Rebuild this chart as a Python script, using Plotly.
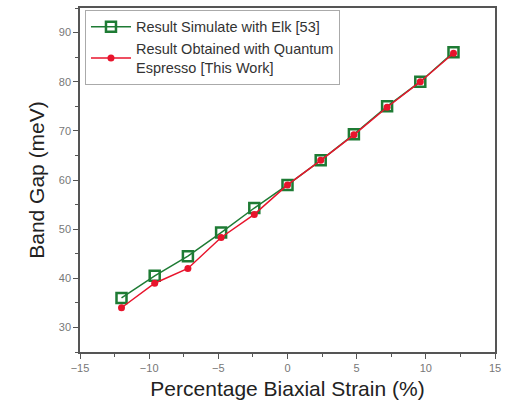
import plotly.graph_objects as go

strain = [-12, -9.6, -7.2, -4.8, -2.4, 0, 2.4, 4.8, 7.2, 9.6, 12]
elk = [36.0, 40.5, 44.5, 49.3, 54.3, 59.0, 64.0, 69.3, 75.0, 80.0, 86.0]
qe = [34.0, 39.0, 42.0, 48.3, 53.0, 59.0, 64.0, 69.2, 74.8, 80.0, 85.8]

green = "#1e7b34"
red = "#e8142c"

fig = go.Figure()
fig.add_trace(go.Scatter(
    x=strain, y=elk, mode="lines+markers", name="Result Simulate with Elk [53]",
    line=dict(color=green, width=1.5),
    marker=dict(symbol="square-open", size=10, color=green, line=dict(width=2.5, color=green)),
))
fig.add_trace(go.Scatter(
    x=strain, y=qe, mode="lines+markers",
    name="Result Obtained with Quantum<br>Espresso [This Work]",
    line=dict(color=red, width=1.5),
    marker=dict(symbol="circle", size=7, color=red),
))

axis_common = dict(
    showline=True, linecolor="#555555", linewidth=1.5, mirror=True,
    ticks="outside", ticklen=5, tickcolor="#555555", tickwidth=1,
    showgrid=False, zeroline=False,
    tickfont=dict(family="Arial, Liberation Sans", size=11, color="#777777"),
)

fig.update_xaxes(
    range=[-15, 15], dtick=5, tick0=-15,
    minor=dict(dtick=2.5, ticks="outside", ticklen=3, tickcolor="#555555"),
    title=dict(text="Percentage Biaxial Strain (%)", font=dict(family="Arial, Liberation Sans", size=21, color="#222222"), standoff=8),
    **axis_common,
)
fig.update_yaxes(
    range=[25, 95], dtick=10, tick0=30,
    minor=dict(dtick=5, ticks="outside", ticklen=3, tickcolor="#555555"),
    title=dict(text="Band Gap (meV)", font=dict(family="Arial, Liberation Sans", size=21, color="#222222"), standoff=8),
    **axis_common,
)

fig.update_layout(
    width=507, height=410,
    margin=dict(l=80, r=8, t=6, b=58),
    plot_bgcolor="white", paper_bgcolor="white",
    showlegend=True,
    legend=dict(
        x=0.012, y=0.995, xanchor="left", yanchor="top",
        bgcolor="white", bordercolor="#aaaaaa", borderwidth=1,
        font=dict(family="Arial, Liberation Sans", size=14.5, color="#333333"),
        tracegroupgap=0, itemwidth=40,
    ),
)

fig.write_html("out.html")
